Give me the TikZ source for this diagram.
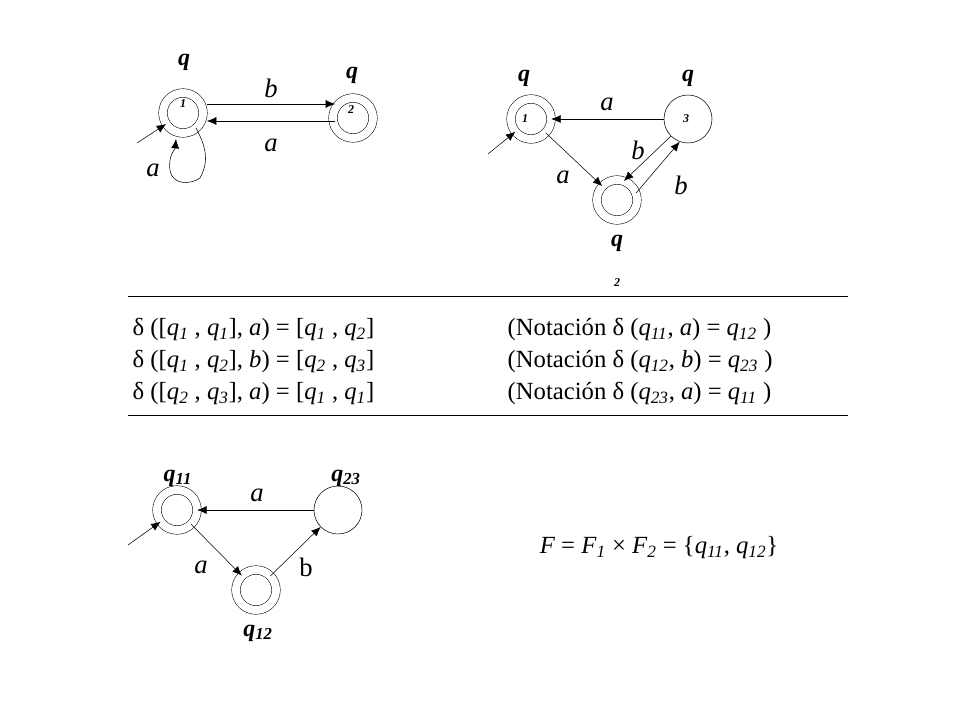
\documentclass[tikz,border=0pt]{standalone}
\usepackage{fontspec}
\setmainfont{Liberation Serif}
\usetikzlibrary{arrows.meta}
\newcommand{\sbs}[1]{\textsubscript{\itshape #1}}
\tikzset{
  acc/.style={circle, draw, double, double distance=6pt, minimum size=30pt, inner sep=0pt},
  st/.style={circle, draw, minimum size=36pt, inner sep=0pt},
  tr/.style={-{Latex[length=7pt,width=6pt]}},
  qlab/.style={font=\fontsize{18}{18}\selectfont\bfseries\itshape},
  sub/.style={font=\fontsize{9}{9}\selectfont\bfseries\itshape},
  lab/.style={font=\fontsize{20}{20}\selectfont\itshape},
  eq/.style={font=\fontsize{18.5}{21}\selectfont, anchor=west}
}
\begin{document}
\begin{tikzpicture}[x=0.75pt,y=-0.75pt]
\useasboundingbox (0,0) rectangle (960,720);
% first automaton
\node[acc] (a1) at (183,113) {};
\node[acc] (a2) at (353,118) {};
\node[qlab] at (184,62) {q};
\node[sub] at (183,104) {1};
\node[qlab] at (352,75) {q};
\node[sub] at (351,110) {2};
\draw[tr] (207,104) -- (335,104);
\draw[tr] (335,121) -- (207,121);
\node[lab] at (271,88) {b};
\node[lab] at (271,145) {a};
\coordinate (i1) at (137,143);
\draw[tr] (i1) -- (a1);
\draw[tr] (196,128) .. controls (205,145) and (210,160) .. (200,178)
  .. controls (190,185) and (172,185) .. (170,170)
  .. controls (168,155) and (175,150) .. (176,139);
\node[lab] at (153,170) {a};
% second automaton
\node[acc] (b1) at (531,119) {};
\node[st] (b3) at (688,119) {};
\node[acc] (b2) at (617,200) {};
\node[qlab] at (524,78) {q};
\node[sub] at (525,119) {1};
\node[qlab] at (688,78) {q};
\node[sub] at (686,119) {3};
\node[qlab] at (617,243) {q};
\node[sub] at (617,283) {2};
\draw[tr] (b3) -- (b1);
\draw[tr] (b1) -- (b2);
\draw[tr] (b3.225) -- (b2.70);
\draw[tr] (b2.20) -- (b3.250);
\node[lab] at (607,104) {a};
\node[lab] at (563,177) {a};
\node[lab] at (638,150) {b};
\node[lab] at (681,185) {b};
\coordinate (i2) at (488,154);
\draw[tr] (i2) -- (b1);
% equations
\draw (128,296) -- (848,296);
\draw (128,415) -- (848,415);
\node[eq] at (128,330) {δ ([\textit{q}\sbs{1} , \textit{q}\sbs{1}], \textit{a}) = [\textit{q}\sbs{1} , \textit{q}\sbs{2}]};
\node[eq] at (128,362) {δ ([\textit{q}\sbs{1} , \textit{q}\sbs{2}], \textit{b}) = [\textit{q}\sbs{2} , \textit{q}\sbs{3}]};
\node[eq] at (128,394) {δ ([\textit{q}\sbs{2} , \textit{q}\sbs{3}], \textit{a}) = [\textit{q}\sbs{1} , \textit{q}\sbs{1}]};
\node[eq] at (503,330) {(Notación δ (\textit{q}\sbs{11}, \textit{a}) = \textit{q}\sbs{12} )};
\node[eq] at (503,362) {(Notación δ (\textit{q}\sbs{12}, \textit{b}) = \textit{q}\sbs{23} )};
\node[eq] at (503,394) {(Notación δ (\textit{q}\sbs{23}, \textit{a}) = \textit{q}\sbs{11} )};
% product automaton
\node[acc] (c11) at (177,510) {};
\node[st] (c23) at (338,510) {};
\node[acc] (c12) at (256,590) {};
\node[qlab] at (178,478) {q\sbs{11}};
\node[qlab] at (346,478) {q\sbs{23}};
\node[qlab] at (258,633) {q\sbs{12}};
\draw[tr] (c23) -- (c11);
\draw[tr] (c11) -- (c12);
\draw[tr] (c12) -- (c23);
\node[lab] at (257,495) {a};
\node[lab] at (201,567) {a};
\node[lab, font=\fontsize{20}{20}\selectfont] at (306,567) {b};
\coordinate (i3) at (128,545);
\draw[tr] (i3) -- (c11);
\node[font=\fontsize{18.5}{21}\selectfont] at (659,548) {\textit{F} = \textit{F}\sbs{1} × \textit{F}\sbs{2} = \{\textit{q}\sbs{11}, \textit{q}\sbs{12}\}};
\end{tikzpicture}
\end{document}
